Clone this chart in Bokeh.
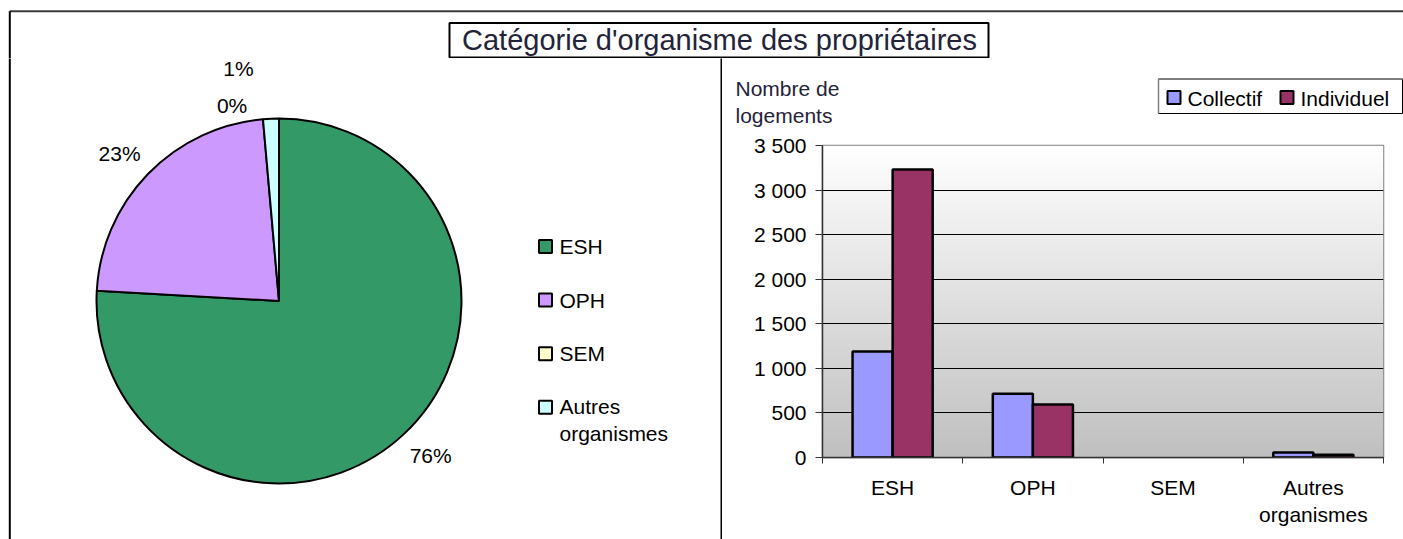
import numpy as np
from bokeh.plotting import figure
from bokeh.layouts import column, row
from bokeh.models import Range1d, FixedTicker, ColumnDataSource
from bokeh.core.properties import value
from bokeh.embed import file_html
from bokeh.resources import INLINE

# ---------------- data ----------------
title_text = "Catégorie d'organisme des propriétaires"
categories = ["ESH", "OPH", "SEM", "Autres\norganismes"]
pie_shares = [75.9, 22.7, 0.0, 1.4]
pie_colors = ["#339966", "#CC99FF", "#FFFFCC", "#CCFFFF"]
series_names = ["Collectif", "Individuel"]
collectif = [1190, 715, 0, 55]
individuel = [3230, 595, 0, 30]
series_colors = ["#9999FF", "#993366"]
y_ticks = [0, 500, 1000, 1500, 2000, 2500, 3000, 3500]
y_tick_labels = ["0", "500", "1 000", "1 500", "2 000", "2 500", "3 000", "3 500"]
y_title = "Nombre de\nlogements"

# ---------------- style / layout ----------------
FONT = "Liberation Sans"
FS = 21
TITLE_COLOR = "#23233a"
W, H = 1403, 539
TOP_H = 58
LEFT_W = 722
RIGHT_W = W - LEFT_W
BODY_H = H - TOP_H
RT_H = 72                    # strip above the bar plot (legend + y title)
BAR_H = BODY_H - RT_H


def no_align(p):
    try:
        p.frame_align = False
    except Exception:
        pass


def canvas(width, height, x0, x1, y0, y1):
    """Figure whose frame is the whole figure; coords = page x, -page y."""
    p = figure(width=width, height=height, x_range=Range1d(x0, x1),
               y_range=Range1d(y0, y1), x_axis_type=None, y_axis_type=None,
               output_backend="svg", toolbar_location=None, min_border=0)
    p.min_border_left = p.min_border_right = 0
    p.min_border_top = p.min_border_bottom = 0
    p.outline_line_color = None
    p.background_fill_color = "white"
    p.border_fill_color = "white"
    no_align(p)
    return p


# ---------------- title strip ----------------
top = canvas(W, TOP_H, 0, W, -TOP_H, 0)
top.line(x=[9.3, W], y=[-10.7, -10.7], line_color="#3a3a3a", line_width=2)
top.line(x=[9.3, 9.3], y=[-10.7, -TOP_H - 2], line_color="black", line_width=2)
top.quad(left=449, right=988, top=-22.5, bottom=-57, fill_color="white",
         line_color="black", line_width=2)
top.text(x=[719], y=[-39.5], text=[title_text], text_align="center",
         text_baseline="middle", text_font=value(FONT), text_font_size="29px",
         text_color=TITLE_COLOR)

# ---------------- pie panel ----------------
pie = canvas(LEFT_W, BODY_H, 0, LEFT_W, -H, -TOP_H)
pie.line(x=[9.3, 9.3], y=[-TOP_H + 2, -H], line_color="black", line_width=2)
pie.line(x=[721, 721], y=[-TOP_H + 2, -H], line_color="black", line_width=2)

CX, CY, R, LR = 278.5, -300.5, 182.5, 215
shares = np.array(pie_shares, dtype=float)
fr = shares / shares.sum()
c_end = np.cumsum(fr)
c_start = c_end - fr
keep = fr > 0
start = np.pi / 2 - c_end * 2 * np.pi
end = np.pi / 2 - c_start * 2 * np.pi
wsrc = ColumnDataSource(dict(start=start[keep], end=end[keep],
                             color=np.array(pie_colors)[keep]))
pie.wedge(x=CX, y=CY, radius=R, start_angle="start", end_angle="end",
          direction="anticlock", fill_color="color", line_color="black",
          line_width=2, source=wsrc)

label_dx = [4, -5, -28, -31]
label_dy = [-2, 2, 18.4, -17.7]
mid = (c_start + c_end) / 2 * 2 * np.pi
lab_x = CX + LR * np.sin(mid) + np.array(label_dx)
lab_y = CY + LR * np.cos(mid) - np.array(label_dy)
pct_text = [f"{round(s)}%" for s in pie_shares]
pie.text(x=lab_x, y=lab_y, text=pct_text, text_align="center",
         text_baseline="middle", text_font=value(FONT),
         text_font_size=f"{FS}px", text_color="black")

# pie legend
leg_y0, leg_pitch = 246, 53.6
sq_y = [-(leg_y0 + i * leg_pitch) for i in range(len(categories))]
pie.rect(x=545, y=sq_y, width=13, height=13, fill_color=pie_colors,
         line_color="black", line_width=2)
txt_y = [y - c.count("\n") * 0.6 * FS for y, c in zip(sq_y, categories)]
pie.text(x=559, y=txt_y, text=categories, text_align="left",
         text_baseline="middle", text_font=value(FONT),
         text_font_size=f"{FS}px", text_color="black")

# ---------------- strip above bar plot: y title + legend ----------------
rt = canvas(RIGHT_W, RT_H, LEFT_W, W, -(TOP_H + RT_H), -TOP_H)
rt.text(x=[735], y=[-76], text=[y_title], text_align="left",
        text_baseline="top", text_font=value(FONT), text_font_size=f"{FS}px",
        text_color=TITLE_COLOR, text_line_height=1.2)
# legend box
rt.quad(left=1158, right=1402, top=-78.5, bottom=-113, fill_color="white",
        line_color="black", line_width=1)
rt.line(x=[1158, 1158, 1402], y=[-113, -78.5, -78.5], line_color="#808080",
        line_width=1.5)
leg_sq_x = [1173.5, 1286.5]
rt.rect(x=leg_sq_x, y=-97, width=13, height=13, fill_color=series_colors,
        line_color="black", line_width=2)
rt.text(x=[x + 13.5 for x in leg_sq_x], y=-97.5, text=series_names,
        text_align="left", text_baseline="middle", text_font=value(FONT),
        text_font_size=f"{FS}px", text_color="black")

# ---------------- bar plot ----------------
bar = figure(width=RIGHT_W, height=BAR_H, x_range=Range1d(0, len(categories)),
             y_range=Range1d(y_ticks[0], y_ticks[-1]), output_backend="svg",
             toolbar_location=None)
no_align(bar)
bar.min_border_left = 100
bar.min_border_right = 20
bar.min_border_top = 145 - (TOP_H + RT_H)
bar.min_border_bottom = H - 457
bar.background_fill_color = "white"
bar.border_fill_color = "white"
bar.outline_line_color = "#808080"
bar.outline_line_width = 1.5

# gradient background of the plot area
n = 256
t = np.linspace(0.0, 1.0, n)
g = (192 + (255 - 192) * t).astype(np.uint8)
img = np.empty((n, 1), dtype=np.uint32)
view = img.view(dtype=np.uint8).reshape((n, 1, 4))
view[:, 0, 0] = g
view[:, 0, 1] = g
view[:, 0, 2] = g
view[:, 0, 3] = 255
bar.image_rgba(image=[img], x=0, y=0, dw=len(categories), dh=y_ticks[-1],
               level="image")

bar.xgrid.visible = False
bar.ygrid.ticker = FixedTicker(ticks=y_ticks[1:-1])
bar.ygrid.grid_line_color = "black"
bar.ygrid.grid_line_width = 1

xc = np.arange(len(categories)) + 0.5
bw = 0.2857
for k, (vals, col) in enumerate(zip([collectif, individuel], series_colors)):
    v = np.array(vals, dtype=float)
    ok = v > 0
    src = ColumnDataSource(dict(x=(xc + (k - 0.5) * bw)[ok], top=v[ok]))
    bar.vbar(x="x", top="top", bottom=0, width=bw, source=src,
             fill_color=col, line_color="black", line_width=2.5)

ya = bar.yaxis[0]
ya.ticker = FixedTicker(ticks=y_ticks)
ya.major_label_overrides = {tk: lb for tk, lb in zip(y_ticks, y_tick_labels)}
ya.major_tick_out = 7
ya.major_tick_in = 0
ya.minor_tick_out = 0
ya.minor_tick_in = 0
ya.major_label_standoff = 9
ya.axis_line_color = "#333333"
ya.axis_line_width = 1.5
ya.major_tick_line_color = "#333333"
ya.major_label_text_font = FONT
ya.major_label_text_font_size = f"{FS}px"
ya.major_label_text_color = "black"

xa = bar.xaxis[0]
xa.ticker = FixedTicker(ticks=list(xc),
                        minor_ticks=list(range(len(categories) + 1)))
xa.major_label_overrides = {float(x): c for x, c in zip(xc, categories)}
xa.major_tick_out = 0
xa.major_tick_in = 0
xa.minor_tick_out = 6
xa.minor_tick_in = 0
xa.minor_tick_line_color = "#333333"
xa.axis_line_color = "#333333"
xa.axis_line_width = 1.5
xa.major_label_standoff = 12
xa.major_label_text_font = FONT
xa.major_label_text_font_size = f"{FS}px"
xa.major_label_text_color = "black"

layout = column(top, row(pie, column(rt, bar)))
open("out.html", "w").write(file_html(layout, INLINE))
